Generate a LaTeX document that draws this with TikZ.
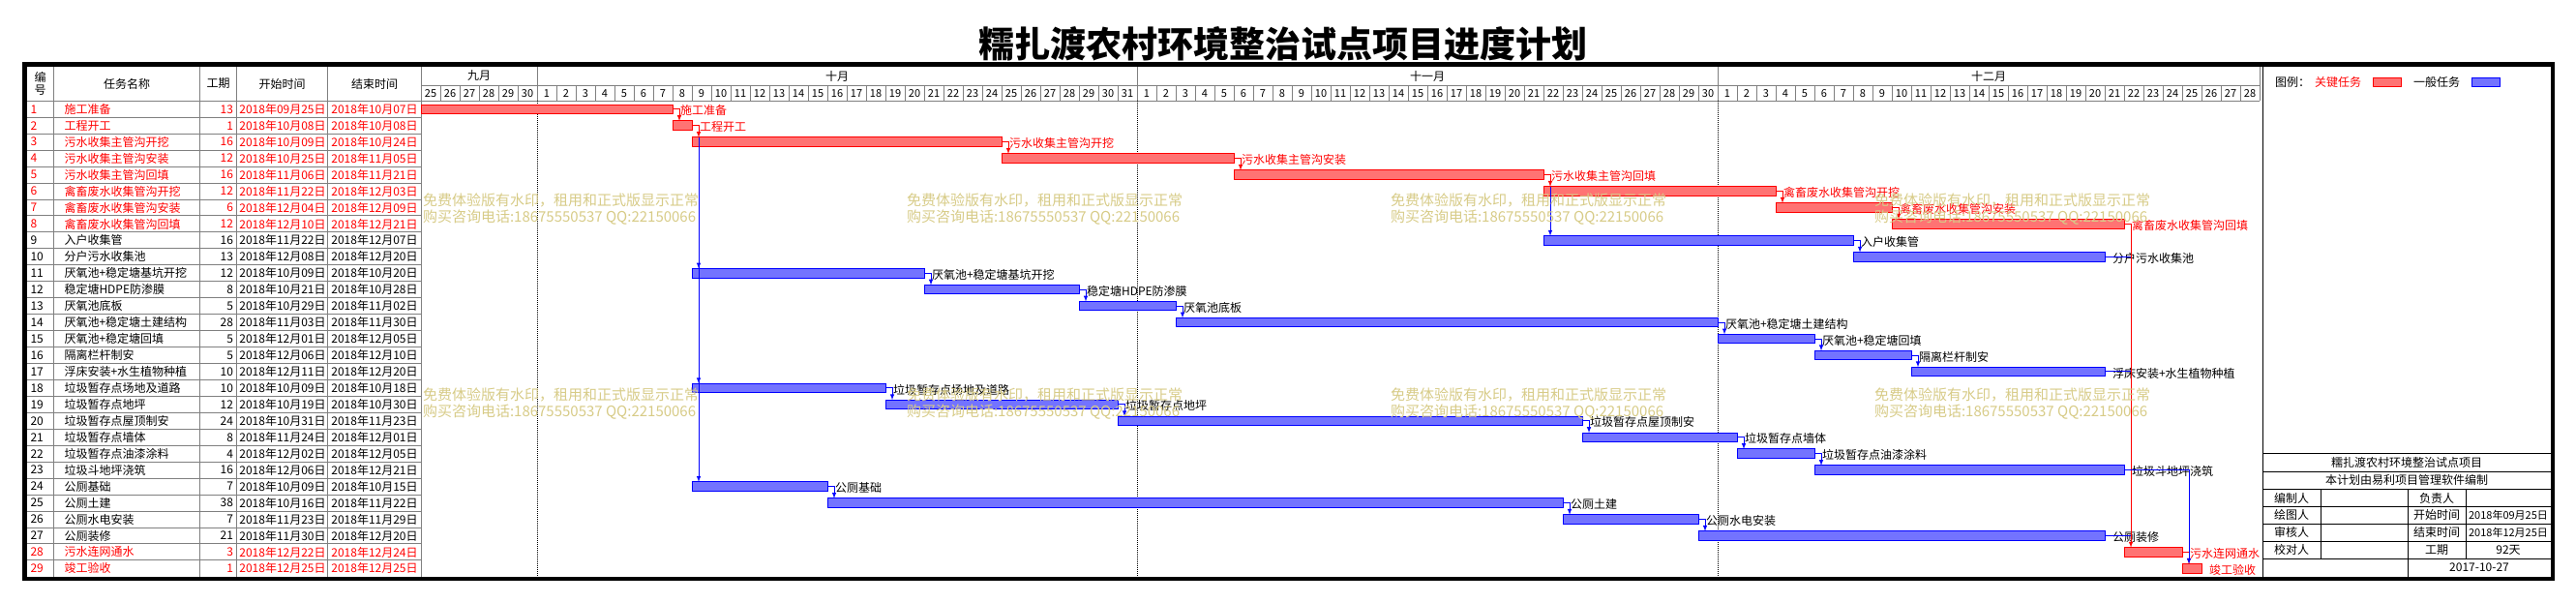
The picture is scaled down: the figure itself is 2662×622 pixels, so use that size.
\documentclass[tikz,border=0pt]{standalone}
\usepackage{fontspec}
\setmainfont{Noto Sans CJK SC}
\usepackage{tikz}
\usetikzlibrary{shapes,arrows,positioning}
\definecolor{gridgray}{RGB}{128,128,128}
\definecolor{wmark}{RGB}{215,203,135}

\begin{document}
\begin{tikzpicture}[x=1pt, y=-1pt,
  every node/.style={inner sep=0, outer sep=0, font=\fontsize{12}{14}\selectfont},
  task red/.style={draw=red, fill=red!55, line width=1pt, minimum height=9.5pt},
  task black/.style={draw=blue, fill=blue!55, line width=1pt, minimum height=9.5pt},
  redline/.style={draw=red, line width=1pt},
  blueline/.style={draw=blue, line width=1pt},
  gridline/.style={draw=gridgray, line width=1pt},
  wmtext/.style={text=wmark, align=left, font=\fontsize{15}{17}\selectfont}]

\useasboundingbox (0,0) rectangle (2662,622);

\node (title) [font=\fontsize{37}{40}\selectfont\bfseries] at (1326,45) {糯扎渡农村环境整治试点项目进度计划};

\foreach \x in {55.3,206.7,244.7,338.7,435.3} \draw[gridline] (\x,69) -- (\x,596);
\foreach \k in {1,...,28} \draw[gridline] (28,{104.3+16.95*\k}) -- (435.3,{104.3+16.95*\k});
\draw[gridline] (28,104.3) -- (2335,104.3);
\draw[gridline] (435.3,88) -- (2335,88);
\foreach \k in {0,...,95} \draw[gridline] ({435+20*\k},88) -- ({435+20*\k},104.3);
\foreach \x in {555,1175,1775,2335} \draw[gridline] (\x,69) -- (\x,88);
\foreach \x in {555,1175,1775} \draw[dash pattern=on 1pt off 1pt, line width=0.8pt] (\x,104.3) -- (\x,596);

\foreach \k in {0,...,94} {
  \pgfmathtruncatemacro\dd{\k<6 ? 25+\k : (\k<37 ? \k-5 : (\k<67 ? \k-36 : \k-66))}
  \node (day\k) [font=\fontsize{11}{13}\selectfont] at ({445+20*\k},96.4) {\dd};
}
\node (sep) at (495,78.5) {九月};
\node (oct) at (865,78.5) {十月};
\node (nov) at (1475,78.5) {十一月};
\node (dec) at (2055,78.5) {十二月};

\node (hno) [align=center, font=\fontsize{12}{13}\selectfont] at (41.6,86.5) {编\\号};
\node (hname) at (131,86.5) {任务名称};
\node (hdur) at (225.7,86.5) {工期};
\node (hstart) at (291.7,86.5) {开始时间};
\node (hend) at (387,86.5) {结束时间};

\node (lg) [anchor=west] at (2351,85) {图例：};
\node (lgcrit) [anchor=west, text=red] at (2392,85) {关键任务};
\node (swcrit) [task red, minimum width=29pt, minimum height=8.6pt, anchor=west] at (2452.5,85) {};
\node (lgnorm) [anchor=west] at (2494,85) {一般任务};
\node (swnorm) [task black, minimum width=29pt, minimum height=8.6pt, anchor=west] at (2554.5,85) {};

\draw[line width=1.5pt] (2338.5,69) -- (2338.5,596);
\foreach \y in {468.3,487,505.7,523.3,541,559.3,577.3} \draw[line width=1pt] (2338.5,\y) -- (2636,\y);
\foreach \x in {2398.3,2548.3} \draw[line width=1pt] (\x,505.7) -- (\x,577.3);
\draw[line width=1pt] (2488.3,505.7) -- (2488.3,596);
\node (proj) at (2487,477.7) {糯扎渡农村环境整治试点项目};
\node (soft) at (2487,496.3) {本计划由易利项目管理软件编制};
\foreach \x/\y/\t [count=\k] in {2368/514.5/编制人, 2518/514.5/负责人, 2368/532.2/绘图人, 2518/532.2/开始时间,
  2592/532.2/{\fontsize{11}{13}\selectfont 2018年09月25日}, 2368/550.2/审核人, 2518/550.2/结束时间,
  2592/550.2/{\fontsize{11}{13}\selectfont 2018年12月25日}, 2368/568.3/校对人, 2518/568.3/工期,
  2592/568.3/92天, 2562/586.5/2017-10-27}
  \node (info\k) at (\x,\y) {\t};

\foreach \i/\name/\d/\sd/\ed/\s/\c in {
  1/施工准备/13/2018年09月25日/2018年10月07日/0/red,
  2/工程开工/1/2018年10月08日/2018年10月08日/13/red,
  3/污水收集主管沟开挖/16/2018年10月09日/2018年10月24日/14/red,
  4/污水收集主管沟安装/12/2018年10月25日/2018年11月05日/30/red,
  5/污水收集主管沟回填/16/2018年11月06日/2018年11月21日/42/red,
  6/禽畜废水收集管沟开挖/12/2018年11月22日/2018年12月03日/58/red,
  7/禽畜废水收集管沟安装/6/2018年12月04日/2018年12月09日/70/red,
  8/禽畜废水收集管沟回填/12/2018年12月10日/2018年12月21日/76/red,
  9/入户收集管/16/2018年11月22日/2018年12月07日/58/black,
  10/分户污水收集池/13/2018年12月08日/2018年12月20日/74/black,
  11/厌氧池+稳定塘基坑开挖/12/2018年10月09日/2018年10月20日/14/black,
  12/稳定塘HDPE防渗膜/8/2018年10月21日/2018年10月28日/26/black,
  13/厌氧池底板/5/2018年10月29日/2018年11月02日/34/black,
  14/厌氧池+稳定塘土建结构/28/2018年11月03日/2018年11月30日/39/black,
  15/厌氧池+稳定塘回填/5/2018年12月01日/2018年12月05日/67/black,
  16/隔离栏杆制安/5/2018年12月06日/2018年12月10日/72/black,
  17/浮床安装+水生植物种植/10/2018年12月11日/2018年12月20日/77/black,
  18/垃圾暂存点场地及道路/10/2018年10月09日/2018年10月18日/14/black,
  19/垃圾暂存点地坪/12/2018年10月19日/2018年10月30日/24/black,
  20/垃圾暂存点屋顶制安/24/2018年10月31日/2018年11月23日/36/black,
  21/垃圾暂存点墙体/8/2018年11月24日/2018年12月01日/60/black,
  22/垃圾暂存点油漆涂料/4/2018年12月02日/2018年12月05日/68/black,
  23/垃圾斗地坪浇筑/16/2018年12月06日/2018年12月21日/72/black,
  24/公厕基础/7/2018年10月09日/2018年10月15日/14/black,
  25/公厕土建/38/2018年10月16日/2018年11月22日/21/black,
  26/公厕水电安装/7/2018年11月23日/2018年11月29日/59/black,
  27/公厕装修/21/2018年11月30日/2018年12月20日/66/black,
  28/污水连网通水/3/2018年12月22日/2018年12月24日/88/red,
  29/竣工验收/1/2018年12月25日/2018年12月25日/91/red} {
  \node (n\i) [anchor=west, text=\c] at (31.5,{104.3+16.95*(\i-0.5)}) {\i};
  \node (t\i) [anchor=west, text=\c] at (66.5,{104.3+16.95*(\i-0.5)}) {\name};
  \node (d\i) [anchor=east, text=\c] at (241,{104.3+16.95*(\i-0.5)}) {\d};
  \node (s\i) [text=\c] at (292,{104.3+16.95*(\i-0.5)}) {\sd};
  \node (e\i) [text=\c] at (387,{104.3+16.95*(\i-0.5)}) {\ed};
  \node (b\i) [task \c, anchor=west, minimum width=20pt*\d] at ({435+20*\s},{104.3+16.95*(\i-0.5)}) {};
  \node (l\i) [anchor=west, text=\c] at ([xshift=8pt,yshift=-1.5pt]b\i.east) {\name};
}

\coordinate (j28) at ([xshift=7pt]b28.north west);
\foreach \a/\b in {1/2,2/3,3/4,4/5,5/6,6/7,7/8}
  \draw[redline,-latex] (b\a.east) -| ([xshift=7pt]b\b.north west);
\foreach \a/\b in {9/10,11/12,12/13,13/14,14/15,15/16,16/17,18/19,19/20,20/21,21/22,22/23,24/25,25/26,26/27}
  \draw[blueline,-latex] (b\a.east) -| ([xshift=7pt]b\b.north west);
\foreach \b in {11,18,24}
  \draw[blueline,-latex] ([xshift=7pt]b3.north west) -- ([xshift=7pt]b\b.north west);
\draw[blueline,-latex] ([xshift=7pt]b6.north west) -- ([xshift=7pt]b9.north west);
\draw[redline,-latex] (b8.east) -| (j28);
\foreach \a in {10,17,27} \draw[blueline] (b\a.east) -- (b\a.east -| j28);
\draw[redline,-latex] (b28.east) -| ([xshift=7pt]b29.north west);
\draw[blueline,-latex] (b23.east) -| ([xshift=7pt]b29.north west);

\foreach \x [count=\k] in {437,937,1437,1937} {
  \node (wma\k) [wmtext, anchor=west] at (\x,216.5) {免费体验版有水印，租用和正式版显示正常\\购买咨询电话:18675550537 QQ:22150066};
  \node (wmb\k) [wmtext, anchor=west] at (\x,417.5) {免费体验版有水印，租用和正式版显示正常\\购买咨询电话:18675550537 QQ:22150066};
}

\draw[line width=4.6pt] (25.7,66.7) rectangle (2638,597.8);
\end{tikzpicture}
\end{document}
